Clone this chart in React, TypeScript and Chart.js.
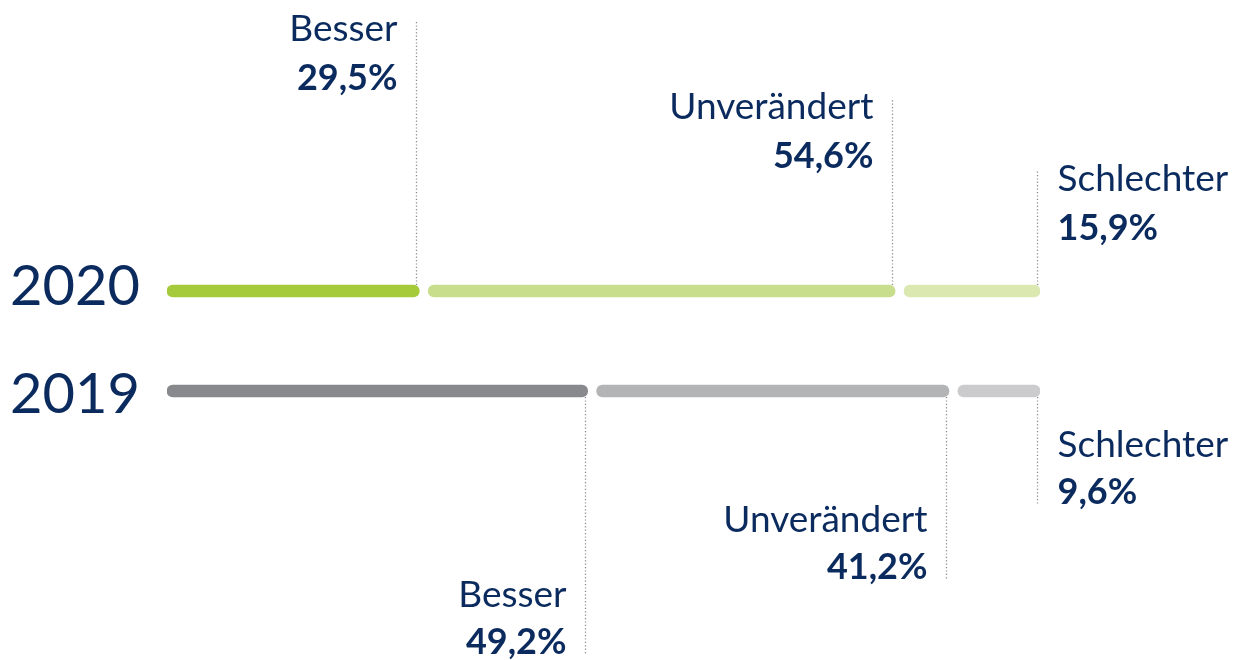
import React, { useEffect, useRef } from "react";
import { Chart, registerables } from "chart.js";

Chart.register(...registerables);

const categories = ["2020", "2019"];
const segmentNames = ["Besser", "Unverändert", "Schlechter"];
const values2020 = [29.5, 54.6, 15.9];
const values2019 = [49.2, 41.2, 9.6];
const valueLabels2020 = ["29,5%", "54,6%", "15,9%"];
const valueLabels2019 = ["49,2%", "41,2%", "9,6%"];
const colors2020 = ["#a5ca3a", "#c8de8c", "#dbe9b1"];
const colors2019 = ["#88898d", "#b3b4b6", "#cbcbcd"];

const GAP = 1.05; // gap between segments in value units
const TEXT_COLOR = "#0b2b5e";
const FONT = "Lato, 'Open Sans', sans-serif";

const allValues = [values2020, values2019];
const allLabels = [valueLabels2020, valueLabels2019];
const allColors = [colors2020, colors2019];

function segRange(vals: number[], i: number): [number, number] {
  let start = 0;
  for (let k = 0; k < i; k++) start += vals[k] + GAP;
  return [start, start + vals[i]];
}

const labelPlugin = {
  id: "segLabels",
  afterDraw(chart: any) {
    const ctx = chart.ctx;
    const xs = chart.scales.x;
    const ys = chart.scales.y;
    const half = 6;
    const upOffsets = [265, 187, 115];
    const downOffsets = [258, 183, 108];
    const yearOffsets = [14, 22];
    ctx.save();
    categories.forEach((cat, c) => {
      const yc = ys.getPixelForValue(c);
      // year label
      ctx.fillStyle = TEXT_COLOR;
      ctx.font = `400 56px ${FONT}`;
      ctx.textAlign = "right";
      ctx.textBaseline = "alphabetic";
      ctx.fillText(cat, xs.left - 27, yc + yearOffsets[c]);
      const vals = allValues[c];
      vals.forEach((v, i) => {
        const [, end] = segRange(vals, i);
        const lx = Math.round(xs.getPixelForValue(end) - 3) + 0.5;
        let y0: number, y1: number, nameY: number, valY: number;
        if (c === 0) {
          y0 = yc - half;
          y1 = y0 - upOffsets[i];
          nameY = y1 + 21;
          valY = y1 + 70;
        } else {
          y0 = yc + half;
          y1 = y0 + downOffsets[i];
          valY = y1 - 1;
          nameY = valY - 47;
        }
        ctx.strokeStyle = "#8c8c8c";
        ctx.lineWidth = 1.3;
        ctx.setLineDash([1.2, 2.2]);
        ctx.beginPath();
        ctx.moveTo(lx, y0);
        ctx.lineTo(lx, y1);
        ctx.stroke();
        ctx.setLineDash([]);
        const last = i === vals.length - 1;
        ctx.textAlign = last ? "left" : "right";
        const tx = last ? lx + 20 : lx - 19;
        ctx.fillStyle = TEXT_COLOR;
        ctx.font = `400 37px ${FONT}`;
        ctx.fillText(segmentNames[i], tx, nameY);
        ctx.font = `700 36px ${FONT}`;
        ctx.fillText(allLabels[c][i], tx, valY);
      });
    });
    ctx.restore();
  },
};

export default function App() {
  const ref = useRef<HTMLCanvasElement | null>(null);
  useEffect(() => {
    if (!ref.current) return;
    const datasets = segmentNames.map((name, i) => ({
      label: name,
      data: allValues.map((vals) => segRange(vals, i)),
      backgroundColor: allColors.map((cols) => cols[i]),
      borderRadius: 6,
      borderSkipped: false,
      barThickness: 12,
      grouped: false,
    }));
    const chart = new Chart(ref.current, {
      type: "bar",
      data: { labels: categories, datasets: datasets as any },
      options: {
        indexAxis: "y",
        responsive: false,
        animation: false,
        layout: { padding: { left: 167, right: 196, top: 241, bottom: 219 } },
        scales: {
          x: { display: false, min: 0, max: 100 + 2 * GAP },
          y: { display: false, offset: true },
        },
        plugins: { legend: { display: false }, tooltip: { enabled: false } },
      },
      plugins: [labelPlugin],
    });
    return () => chart.destroy();
  }, []);
  return (
    <div style={{ position: "absolute", left: 0, top: 0, width: 1236, height: 660, background: "#fff" }}>
      <canvas ref={ref} width={1236} height={660} style={{ display: "block" }} />
    </div>
  );
}
